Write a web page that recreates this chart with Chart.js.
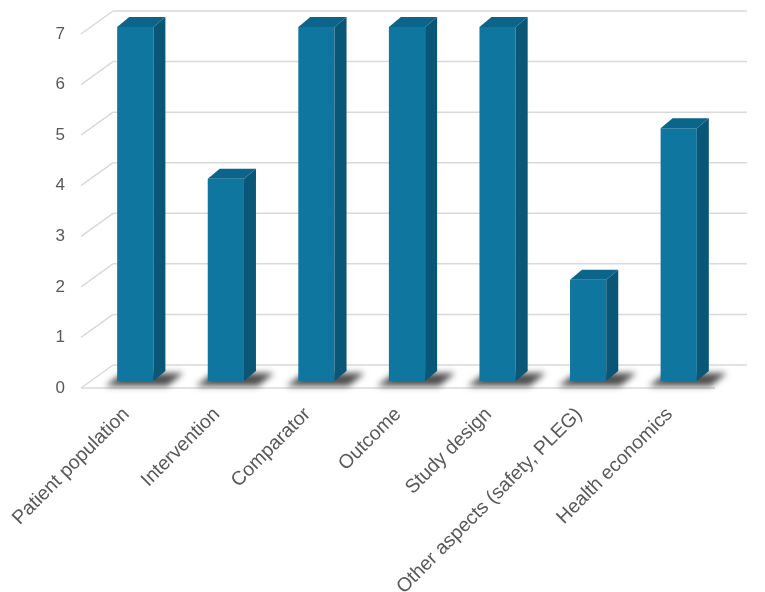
<!DOCTYPE html>
<html lang="en">
<head>
  <meta charset="UTF-8">
  <title>Topics</title>
  <style>
    html, body { margin: 0; padding: 0; background: #fff; }
    #wrap { width: 765px; height: 592px; }
  </style>
</head>
<body>
  <div id="wrap"><canvas id="chart" width="765" height="592"></canvas></div>

  <script src="https://cdn.jsdelivr.net/npm/chart.js"></script>
  <script>
    // data
    const categories = [
      'Patient population',
      'Intervention',
      'Comparator',
      'Outcome',
      'Study design',
      'Other aspects (safety, PLEG)',
      'Health economics'
    ];
    const counts = [7, 4, 7, 7, 7, 2, 5];
    const yMin = 0;
    const yMax = 7;
    const yStep = 1;

    // fake 3d look: front plane, back wall and bar depth offsets
    const FRONT = { dx: -9, dy: 7 };
    const BACK = { dx: 23, dy: -16 };
    const BAR_DEPTH = { dx: 12, dy: -10 };

    const frontColor = '#0f76a0';
    const sideColor = '#0a5677';
    const topColor = '#0b6489';
    const gridColor = '#d9d9d9';

    const depth3d = {
      id: 'depth3d',
      beforeDatasetsDraw(chart) {
        const ctx = chart.ctx;
        const area = chart.chartArea;
        const y = chart.scales.y;
        ctx.save();
        ctx.lineWidth = 1.5;
        ctx.strokeStyle = gridColor;
        for (let v = yMin; v <= yMax; v += yStep) {
          const py = y.getPixelForValue(v);
          // back wall line
          ctx.beginPath();
          ctx.moveTo(area.left + BACK.dx, py + BACK.dy);
          ctx.lineTo(area.right + BACK.dx, py + BACK.dy);
          ctx.stroke();
          // side wall diagonal
          ctx.beginPath();
          ctx.moveTo(area.left + FRONT.dx, py + FRONT.dy);
          ctx.lineTo(area.left + BACK.dx, py + BACK.dy);
          ctx.stroke();
        }
        // floor front edge
        const base = y.getPixelForValue(0);
        ctx.beginPath();
        ctx.moveTo(area.left + FRONT.dx, base + FRONT.dy);
        ctx.lineTo(area.right + FRONT.dx, base + FRONT.dy);
        ctx.stroke();

        // shadows on the floor
        const meta = chart.getDatasetMeta(0);
        ctx.filter = 'blur(3px)';
        ctx.fillStyle = 'rgba(35,35,35,0.8)';
        meta.data.forEach(bar => {
          const half = bar.width / 2;
          const l = bar.x - half, r = bar.x + half, b = bar.base;
          ctx.beginPath();
          ctx.moveTo(l - 12, b + 5);
          ctx.lineTo(r + 14, b + 5);
          ctx.lineTo(r + 30, b - 8);
          ctx.lineTo(l + 6, b - 8);
          ctx.closePath();
          ctx.fill();
        });
        ctx.filter = 'none';
        ctx.restore();
      },
      afterDatasetsDraw(chart) {
        const ctx = chart.ctx;
        const meta = chart.getDatasetMeta(0);
        ctx.save();
        meta.data.forEach(bar => {
          const half = bar.width / 2;
          const l = bar.x - half, r = bar.x + half;
          const t = bar.y, b = bar.base;
          // right side face
          ctx.fillStyle = sideColor;
          ctx.beginPath();
          ctx.moveTo(r, t);
          ctx.lineTo(r + BAR_DEPTH.dx, t + BAR_DEPTH.dy);
          ctx.lineTo(r + BAR_DEPTH.dx, b + BAR_DEPTH.dy);
          ctx.lineTo(r, b);
          ctx.closePath();
          ctx.fill();
          // top face
          ctx.fillStyle = topColor;
          ctx.beginPath();
          ctx.moveTo(l, t);
          ctx.lineTo(l + BAR_DEPTH.dx, t + BAR_DEPTH.dy);
          ctx.lineTo(r + BAR_DEPTH.dx, t + BAR_DEPTH.dy);
          ctx.lineTo(r, t);
          ctx.closePath();
          ctx.fill();
        });
        ctx.restore();
      }
    };

    new Chart(document.getElementById('chart'), {
      type: 'bar',
      data: {
        labels: categories,
        datasets: [{
          data: counts,
          backgroundColor: frontColor,
          borderWidth: 0,
          barPercentage: 0.4,
          categoryPercentage: 1
        }]
      },
      options: {
        responsive: false,
        animation: false,
        layout: { padding: { top: 27, right: 41, bottom: 0, left: 0 } },
        plugins: {
          legend: { display: false },
          tooltip: { enabled: false }
        },
        scales: {
          x: {
            grid: { display: false, drawTicks: false },
            border: { display: false },
            ticks: {
              autoSkip: false,
              minRotation: 45,
              maxRotation: 45,
              padding: 22,
              labelOffset: -9,
              color: '#595959',
              font: { family: '"Liberation Sans", Arial, sans-serif', size: 19.5 }
            },
            afterFit: s => {
              s.height = 211;
              s.paddingLeft = 0;
              s.paddingRight = 0;
            }
          },
          y: {
            min: yMin,
            max: yMax,
            grid: { display: false, drawTicks: false },
            border: { display: false },
            ticks: {
              stepSize: yStep,
              padding: 25,
              labelOffset: 7,
              color: '#595959',
              font: { family: '"Liberation Sans", Arial, sans-serif', size: 17 }
            },
            afterFit: s => {
              s.width = 90;
              s.paddingTop = 0;
              s.paddingBottom = 0;
            }
          }
        }
      },
      plugins: [depth3d]
    });
  </script>
</body>
</html>
